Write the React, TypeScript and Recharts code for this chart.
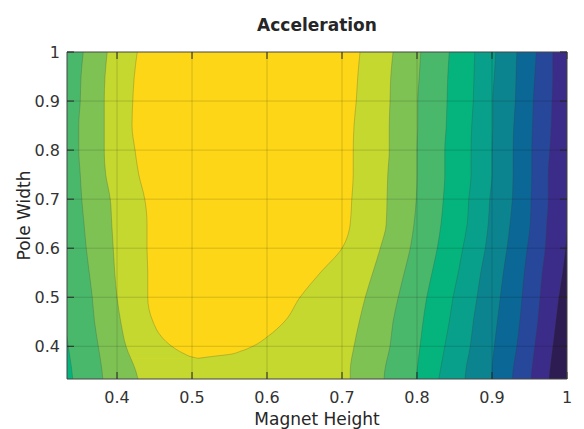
// Acceleration contour map - filled bands drawn as painter-ordered vertical areas

import { ComposedChart, Area, XAxis, YAxis, CartesianGrid, ReferenceLine } from "recharts";

const X_MIN = 0.3333;
const Y_MIN = 0.3333;
const X_TICKS = [0.4, 0.5, 0.6, 0.7, 0.8, 0.9, 1];
const Y_TICKS = [0.4, 0.5, 0.6, 0.7, 0.8, 0.9, 1];
const GRID_X = [0.4, 0.5, 0.6, 0.7, 0.8, 0.9];
const GRID_Y = [0.4, 0.5, 0.6, 0.7, 0.8, 0.9];

// pole width rows (y) where each contour boundary's magnet height (x) was read
// the dense rows near the bottom are only used by the yellow blob and the corner band
const ROW_Y = [1, 0.95, 0.9, 0.85, 0.8, 0.75, 0.7, 0.65, 0.6, 0.55, 0.5, 0.45, 0.42, 0.4, 0.39, 0.383, 0.38, 0.3755, 0.36, 0.35, 0.3333];

// contour boundaries, left to right (null = not read on that row)
const B1 = [null, null, null, null, null, null, null, null, null, null, null, null, 0.3333, 0.335, null, null, null, null, 0.339, null, 0.341];
const B2 = [0.355, 0.352, 0.351, 0.349, 0.349, 0.351, 0.353, 0.356, 0.359, 0.363, 0.367, 0.37, null, 0.375, null, null, null, null, null, 0.38, 0.381];
const B3 = [0.387, 0.384, 0.383, 0.383, 0.383, 0.385, 0.391, 0.393, 0.395, 0.397, 0.4, 0.405, null, 0.412, null, null, null, null, null, 0.425, 0.428];
const B4 = [0.427, 0.423, 0.421, 0.42, 0.424, 0.429, 0.437, 0.44, 0.44, 0.441, 0.441, 0.448, 0.459, 0.473, 0.483, 0.492, 0.496, 0.508, null, null, null];
const B5 = [0.724, 0.721, 0.719, 0.716, 0.715, 0.715, 0.713, 0.711, 0.7, 0.671, 0.644, 0.623, 0.601, 0.581, 0.565, 0.548, 0.531, 0.508, null, null, null];
const B6 = [0.768, 0.765, 0.764, 0.763, 0.763, 0.761, 0.76, 0.759, 0.751, 0.741, 0.731, 0.723, null, 0.716, null, null, null, null, null, 0.711, 0.711];
const B7 = [0.805, 0.803, 0.801, 0.801, 0.8, 0.8, 0.799, 0.796, 0.791, 0.783, 0.775, 0.768, null, 0.764, null, null, null, null, null, 0.757, 0.756];
const B8 = [0.843, 0.841, 0.84, 0.839, 0.837, 0.837, 0.835, 0.832, 0.827, 0.82, 0.813, 0.808, null, 0.804, null, null, null, null, null, 0.8, 0.799];
const B9 = [0.877, 0.876, 0.875, 0.873, 0.872, 0.872, 0.869, 0.867, 0.861, 0.855, 0.848, 0.843, null, 0.837, null, null, null, null, null, 0.831, 0.829];
const B10 = [0.905, 0.903, 0.901, 0.901, 0.9, 0.9, 0.897, 0.895, 0.891, 0.885, 0.88, 0.875, null, 0.871, null, null, null, null, null, 0.865, 0.864];
const B11 = [0.933, 0.932, 0.931, 0.929, 0.928, 0.928, 0.927, 0.924, 0.92, 0.915, 0.911, 0.907, null, 0.903, null, null, null, null, null, 0.9, 0.9];
const B12 = [0.959, 0.957, 0.955, 0.954, 0.953, 0.953, 0.952, 0.951, 0.947, 0.943, 0.94, 0.937, null, 0.933, null, null, null, null, null, 0.928, 0.927];
const B13 = [0.981, 0.981, 0.98, 0.979, 0.977, 0.975, 0.975, 0.973, 0.971, 0.967, 0.964, 0.961, null, 0.957, null, null, null, null, null, 0.953, 0.952];
const B14 = [1, 1, 1, 1, 1, 1, 1, 1, 0.998, 0.994, 0.989, 0.985, null, 0.981, null, null, null, null, null, 0.977, 0.976];

// band colours, darkest (right) to brightest (middle)
const LEVEL_COLORS = [
  "#2c1c52",
  "#3c2c89",
  "#26479a",
  "#0b6796",
  "#0c8490",
  "#08a08a",
  "#05b47c",
  "#4ab86b",
  "#7fc254",
  "#c4d82f",
  "#fcd617",
];

// painter order: each area fills from the left edge to its boundary with the colour on its left
const LAYERS: { key: string; level: number }[] = [
  { key: "b14", level: 1 },
  { key: "b13", level: 2 },
  { key: "b12", level: 3 },
  { key: "b11", level: 4 },
  { key: "b10", level: 5 },
  { key: "b9", level: 6 },
  { key: "b8", level: 7 },
  { key: "b7", level: 8 },
  { key: "b6", level: 9 },
  { key: "b5", level: 10 },
  { key: "b4", level: 9 },
  { key: "b3", level: 8 },
  { key: "b2", level: 7 },
  { key: "b1", level: 6 },
];

const BOUNDARIES: Record<string, (number | null)[]> = {
  b1: B1, b2: B2, b3: B3, b4: B4, b5: B5, b6: B6, b7: B7,
  b8: B8, b9: B9, b10: B10, b11: B11, b12: B12, b13: B13, b14: B14,
};

const rows = ROW_Y.map((y, i) => {
  const row: Record<string, number | null> = { y };
  Object.keys(BOUNDARIES).forEach((k) => {
    row[k] = BOUNDARIES[k][i];
  });
  return row;
});

const FONT = "'DejaVu Sans', sans-serif";
const TEXT_COLOR = "#262626";
const AXIS_COLOR = "#444444";

const renderNothing = () => <g />;

export default function App() {
  return (
    <div style={{ position: "absolute", left: 0, top: 0, width: 584, height: 429, background: "#fff", fontFamily: FONT }}>
      <div
        style={{
          position: "absolute",
          left: 67,
          top: 17,
          width: 500,
          textAlign: "center",
          fontSize: 17,
          lineHeight: "17px",
          fontWeight: "bold",
          color: TEXT_COLOR,
        }}
      >
        Acceleration
      </div>
      <ComposedChart
        width={584}
        height={429}
        layout="vertical"
        data={rows}
        margin={{ top: 51, right: 16, bottom: 0, left: 0 }}
      >
        <CartesianGrid
          xAxisId="bottom"
          yAxisId="left"
          horizontal={false}
          vertical={false}
          fill={LEVEL_COLORS[0]}
          fillOpacity={1}
        />
        <XAxis
          xAxisId="bottom"
          type="number"
          domain={[X_MIN, 1]}
          allowDataOverflow
          ticks={X_TICKS}
          height={50}
          tickSize={-7}
          tickMargin={20}
          axisLine={{ stroke: AXIS_COLOR }}
          tickLine={{ stroke: TEXT_COLOR }}
          tick={{ fontSize: 16, fill: "#333", fontFamily: FONT }}
          label={{ value: "Magnet Height", position: "insideBottom", offset: 4, fontSize: 17, fill: TEXT_COLOR }}
        />
        <XAxis
          xAxisId="top"
          orientation="top"
          type="number"
          domain={[X_MIN, 1]}
          allowDataOverflow
          ticks={X_TICKS}
          height={1}
          tickSize={-7}
          axisLine={{ stroke: AXIS_COLOR }}
          tickLine={{ stroke: TEXT_COLOR }}
          tick={renderNothing}
        />
        <YAxis
          yAxisId="left"
          type="number"
          dataKey="y"
          reversed
          domain={[Y_MIN, 1]}
          allowDataOverflow
          ticks={Y_TICKS}
          width={67}
          tickSize={-7}
          tickMargin={14}
          axisLine={{ stroke: AXIS_COLOR }}
          tickLine={{ stroke: TEXT_COLOR }}
          tick={{ fontSize: 16, fill: "#333", fontFamily: FONT }}
          label={{
            value: "Pole Width",
            angle: -90,
            position: "insideLeft",
            offset: 24,
            fontSize: 17,
            fill: TEXT_COLOR,
            style: { textAnchor: "middle" },
          }}
        />
        <YAxis
          yAxisId="right"
          orientation="right"
          type="number"
          dataKey="y"
          reversed
          domain={[Y_MIN, 1]}
          allowDataOverflow
          ticks={Y_TICKS}
          width={1}
          tickSize={-7}
          axisLine={{ stroke: AXIS_COLOR }}
          tickLine={{ stroke: TEXT_COLOR }}
          tick={renderNothing}
        />
        {LAYERS.map((layer) => (
          <Area
            key={layer.key}
            xAxisId="bottom"
            yAxisId="left"
            type="monotone"
            dataKey={layer.key}
            connectNulls
            fill={LEVEL_COLORS[layer.level]}
            fillOpacity={1}
            stroke="#3a3a3a"
            strokeOpacity={0.4}
            strokeWidth={0.6}
            dot={false}
            activeDot={false}
            isAnimationActive={false}
          />
        ))}
        {GRID_X.map((x) => (
          <ReferenceLine key={`gx${x}`} xAxisId="bottom" yAxisId="left" x={x} stroke="#000" strokeOpacity={0.15} />
        ))}
        {GRID_Y.map((y) => (
          <ReferenceLine key={`gy${y}`} xAxisId="bottom" yAxisId="left" y={y} stroke="#000" strokeOpacity={0.15} />
        ))}
      </ComposedChart>
    </div>
  );
}
